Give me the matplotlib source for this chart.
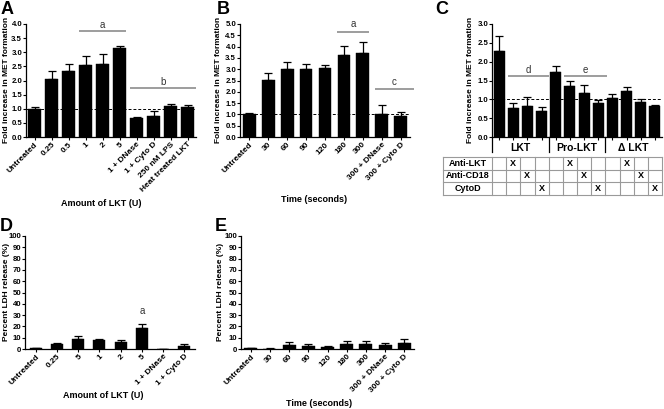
import numpy as np
import matplotlib
matplotlib.use("Agg")
import matplotlib.pyplot as plt
import matplotlib.transforms as mtrans

plt.rcParams['font.family'] = ['Liberation Sans', 'DejaVu Sans']

# ---------------- data ----------------
A_labels = ['Untreated', '0.25', '0.5', '1', '2', '5', '1 + DNase', '1 + Cyto D',
            '250 nM LPS', 'Heat treated LKT']
A_vals = [1.0, 2.05, 2.32, 2.54, 2.58, 3.15, 0.66, 0.76, 1.10, 1.05]
A_err = [0.05, 0.29, 0.28, 0.33, 0.35, 0.08, 0.06, 0.17, 0.07, 0.07]
A_sig = [('a', 2.62, 5.38, 3.75, 3.95), ('b', 5.62, 9.5, 1.72, 1.95)]

B_labels = ['Untreated', '30', '60', '90', '120', '180', '300', '300 + DNase',
            '300 + Cyto D']
B_vals = [1.0, 2.52, 3.0, 3.0, 3.05, 3.62, 3.72, 1.02, 0.93]
B_err = [0.05, 0.30, 0.32, 0.22, 0.14, 0.42, 0.50, 0.40, 0.18]
B_sig = [('a', 4.66, 6.34, 4.66, 5.0), ('c', 6.66, 8.7, 2.14, 2.45)]

C_vals = [2.29, 0.78, 0.81, 0.69, 1.72, 1.36, 1.18, 0.89, 1.04, 1.23, 0.94, 0.82]
C_err = [0.38, 0.11, 0.24, 0.10, 0.16, 0.12, 0.21, 0.10, 0.11, 0.11, 0.07, 0.03]
C_groups = ['LKT', 'Pro-LKT', 'Δ LKT']
C_rows = ['Anti-LKT', 'Anti-CD18', 'CytoD']
C_table = [[0, 1, 0, 0, 0, 1, 0, 0, 0, 1, 0, 0],
           [0, 0, 1, 0, 0, 0, 1, 0, 0, 0, 1, 0],
           [0, 0, 0, 1, 0, 0, 0, 1, 0, 0, 0, 1]]
C_sig = [('d', 0.6, 3.5, 1.61, 1.79), ('e', 4.6, 7.6, 1.61, 1.79)]

D_labels = ['Untreated', '0.25', '5', '1', '2', '5', '1 + DNase', '1 + Cyto D']
D_vals = [0.6, 4.6, 8.6, 7.9, 6.3, 18.6, 0.2, 2.5]
D_err = [0.3, 1.0, 2.8, 1.2, 1.7, 3.4, 0.0, 1.7]
D_sig = [('a', 5, 33.8)]

E_labels = ['Untreated', '30', '60', '90', '120', '180', '300', '300 + DNase',
            '300 + Cyto D']
E_vals = [0.8, 0.4, 3.5, 2.8, 1.8, 4.3, 4.2, 3.3, 5.7]
E_err = [0.3, 0.2, 2.8, 1.6, 0.8, 2.5, 2.8, 1.8, 3.3]

# ---------------- figure ----------------
W, H = 664, 409
fig = plt.figure(figsize=(W / 100, H / 100), dpi=100)


def add_ax(x0, y0, x1, y1):
    return fig.add_axes([x0 / W, 1 - y1 / H, (x1 - x0) / W, (y1 - y0) / H])


SIGC = '#8c8c8c'
YTICKFS = 5.6
XTICKFS = 6.0


def bar_panel(ax, vals, err, width, top, step, fmt, labels=None):
    n = len(vals)
    x = np.arange(n)
    ax.bar(x, vals, width=width, color='black', edgecolor='black', linewidth=0.3, zorder=2)
    ax.errorbar(x, vals, yerr=[np.zeros(n), err], fmt='none', ecolor='black',
                elinewidth=0.9, capsize=2.8, capthick=0.9, zorder=3)
    ax.set_xlim(-0.5, n - 0.5)
    ax.set_ylim(0, top)
    for s in ['top', 'right']:
        ax.spines[s].set_visible(False)
    for s in ['left', 'bottom']:
        ax.spines[s].set_linewidth(0.9)
    yt = np.arange(0, top + 1e-9, step)
    ax.set_yticks(yt)
    ax.set_yticklabels([fmt % v for v in yt], fontweight='bold', fontsize=YTICKFS)
    ax.tick_params(axis='both', direction='out', length=2.0, width=0.8, pad=0.8)
    ax.set_xticks(x)
    if labels is not None:
        ax.set_xticklabels(labels, rotation=45, ha='right', rotation_mode='anchor',
                           fontweight='bold', fontsize=XTICKFS)
    else:
        ax.set_xticklabels([])


def sig(ax, lab, x0, x1, y, ty):
    ax.plot([x0, x1], [y, y], color=SIGC, lw=1.2, clip_on=False, solid_capstyle='butt')
    ax.text((x0 + x1) / 2, ty, lab, ha='center', va='center', fontsize=7, color='#333333')


# Panel A
axA = add_ax(26, 24, 196, 137)
bar_panel(axA, A_vals, A_err, 0.76, 4.0, 0.5, '%.1f', A_labels)
axA.axhline(1.0, color='black', lw=0.7, ls=(0, (3, 2)), zorder=4)
for s in A_sig:
    sig(axA, *s)

# Panel B
axB = add_ax(240, 24, 410, 137)
bar_panel(axB, B_vals, B_err, 0.67, 5.0, 0.5, '%.1f', B_labels)
axB.axhline(1.0, color='black', lw=0.7, ls=(0, (3, 2)), zorder=4)
for s in B_sig:
    sig(axB, *s)

# Panel C
axC = add_ax(492, 24, 662, 137)
bar_panel(axC, C_vals, C_err, 0.78, 3.0, 0.5, '%.1f', None)
axC.axhline(1.0, color='black', lw=0.7, ls=(0, (3, 2)), zorder=4)
for s in C_sig:
    sig(axC, *s)
trC = mtrans.blended_transform_factory(axC.transData, axC.transAxes)
sep_bottom = -(152 - 137) / (137 - 24)
for g in range(len(C_groups)):
    xs = -0.5 + 4 * g
    axC.plot([xs, xs], [0, sep_bottom], color='black', lw=0.9, transform=trC,
             clip_on=False)
    axC.text(xs + 2, -(148 - 137) / (137 - 24), C_groups[g], transform=trC,
             ha='center', va='center', fontsize=7.5, fontweight='bold')

# table under C
ncol = len(C_vals)
px_per = (662 - 492) / ncol
left_x = -0.5 - (492 - 443) / px_per
axT = add_ax(443, 157, 662, 195)
axT.set_xlim(left_x, ncol - 0.5)
axT.set_ylim(len(C_rows), 0)
axT.axis('off')
TC = '#9a9a9a'
for r in range(len(C_rows) + 1):
    axT.plot([left_x, ncol - 0.5], [r, r], color=TC, lw=0.8, clip_on=False)
axT.plot([left_x, left_x], [0, len(C_rows)], color=TC, lw=0.8, clip_on=False)
for k in range(ncol + 1):
    axT.plot([-0.5 + k, -0.5 + k], [0, len(C_rows)], color=TC, lw=0.8, clip_on=False)
for r, name in enumerate(C_rows):
    axT.text((left_x - 0.5) / 2, r + 0.5, name, ha='center', va='center',
             fontsize=6.5, fontweight='bold')
    for c in range(ncol):
        if C_table[r][c]:
            axT.text(c, r + 0.5, 'X', ha='center', va='center', fontsize=6.5,
                     fontweight='bold')

# Panel D
axD = add_ax(25, 236, 195, 349)
bar_panel(axD, D_vals, D_err, 0.57, 100, 10, '%d', D_labels)
for lab, xi, y in D_sig:
    axD.text(xi, y, lab, ha='center', va='center', fontsize=7, color='#333333')

# Panel E
axE = add_ax(241, 236, 414, 349)
bar_panel(axE, E_vals, E_err, 0.68, 100, 10, '%d', E_labels)


# axis titles
def ftext(x, y, s, **kw):
    fig.text(x / W, 1 - y / H, s, **kw)


ylab_kw = dict(rotation=90, ha='center', va='center', fontsize=6.0, fontweight='bold')
ftext(6.5, 80, 'Fold increase in MET formation', **ylab_kw)
ftext(219, 80, 'Fold increase in MET formation', **ylab_kw)
ftext(470, 80, 'Fold increase in MET formation', **ylab_kw)
ftext(6.5, 292, 'Percent LDH release (%)', **ylab_kw)
ftext(221, 292, 'Percent LDH release (%)', **ylab_kw)

xlab_kw = dict(ha='center', va='center', fontsize=6.5, fontweight='bold')
ftext(101, 203, 'Amount of LKT (U)', **xlab_kw)
ftext(314, 199, 'Time (seconds)', **xlab_kw)
ftext(103, 396, 'Amount of LKT (U)', **xlab_kw)
ftext(319, 404, 'Time (seconds)', **xlab_kw)

pl_kw = dict(ha='center', va='center', fontsize=13, fontweight='bold')
ftext(7, 10, 'A', **pl_kw)
ftext(223, 10, 'B', **pl_kw)
ftext(442, 10, 'C', **pl_kw)
ftext(6, 227, 'D', **pl_kw)
ftext(221, 227, 'E', **pl_kw)

fig.savefig('out.png', dpi=100)
